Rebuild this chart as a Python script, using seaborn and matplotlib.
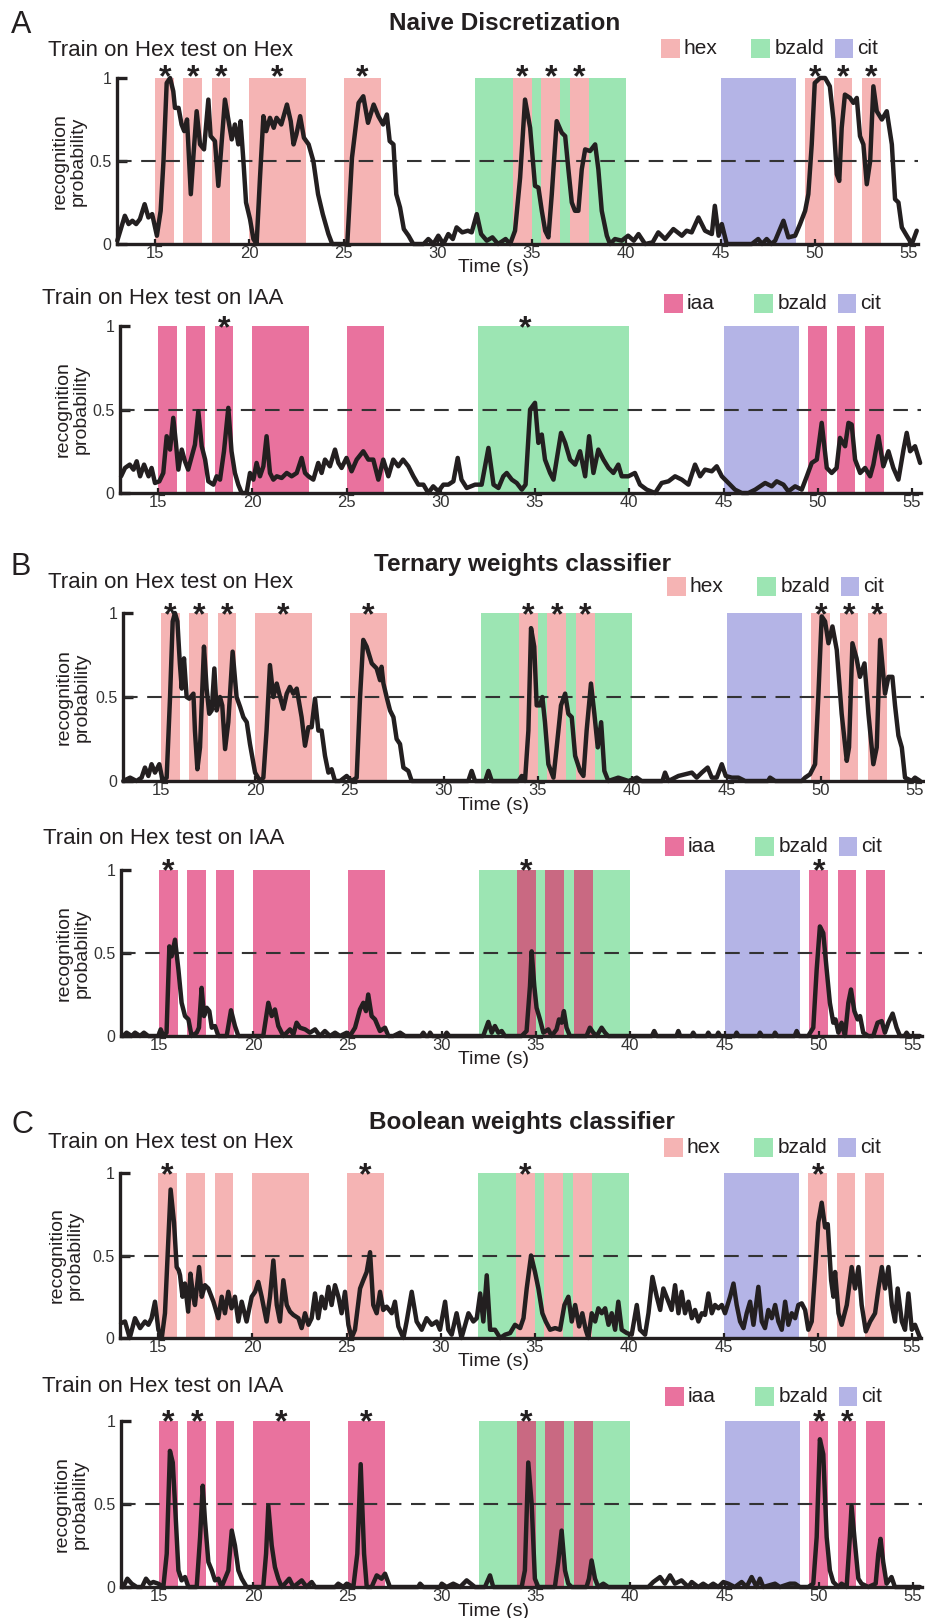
import matplotlib
matplotlib.use("Agg")
import matplotlib.pyplot as plt
import matplotlib.transforms as mtrans
from matplotlib.patches import Rectangle
import numpy as np
import pandas as pd
import seaborn as sns

# ---------------- data ----------------
PULSE_ON = [15, 16.5, 18, 20, 25, 49.5, 51, 52.5]
PULSE_OFF = [16, 17.5, 19, 23, 27, 50.5, 52, 53.5]
MIX_ON = [34, 35.5, 37]
MIX_OFF = [35, 36.5, 38]
BZALD_WIN = (32, 40)
CIT_WIN = (45, 49)
XTICKS = [15, 20, 25, 30, 35, 40, 45, 50, 55]
YTICKS = [0, 0.5, 1]
YTICKLABELS = ["0", "0.5", "1"]

A_TOP = [(13.0,0.02),(13.4,0.17),(13.6,0.12),(13.8,0.14),(14.0,0.12),(14.2,0.15),(14.45,0.24),(14.65,0.16),(14.85,0.18),(15.1,0.05),(15.3,0.2),(15.45,0.5),(15.62,0.97),(15.8,1.0),(15.97,0.92),(16.06,0.82),(16.25,0.82),(16.41,0.72),(16.55,0.68),(16.7,0.75),(16.9,0.3),(17.05,0.55),(17.21,0.8),(17.39,0.6),(17.6,0.57),(17.83,0.87),(17.95,0.65),(18.18,0.62),(18.36,0.35),(18.54,0.62),(18.71,0.87),(18.89,0.75),(19.07,0.63),(19.24,0.72),(19.42,0.6),(19.54,0.74),(19.69,0.5),(19.83,0.25),(20.04,0.15),(20.22,0.03),(20.39,0.0),(20.57,0.4),(20.75,0.77),(20.9,0.68),(21.1,0.76),(21.3,0.7),(21.45,0.76),(21.7,0.72),(22.0,0.84),(22.2,0.74),(22.35,0.6),(22.5,0.66),(22.7,0.77),(22.9,0.64),(23.15,0.6),(23.4,0.5),(23.65,0.3),(23.9,0.18),(24.2,0.06),(24.4,0.0),(25.2,0.0),(25.45,0.52),(25.8,0.85),(26.05,0.89),(26.3,0.73),(26.6,0.84),(26.85,0.77),(27.1,0.72),(27.3,0.78),(27.45,0.62),(27.65,0.6),(27.8,0.3),(28.0,0.22),(28.2,0.09),(28.45,0.05),(28.7,0.0),(29.25,0.0),(29.5,0.03),(29.77,0.0),(30.03,0.05),(30.3,0.0),(30.56,0.06),(30.8,0.03),(31.0,0.1),(31.3,0.07),(31.6,0.08),(31.8,0.07),(32.07,0.18),(32.3,0.06),(32.6,0.02),(32.9,0.04),(33.2,0.0),(33.6,0.03),(33.84,0.0),(34.1,0.08),(34.37,0.4),(34.63,0.87),(34.9,0.7),(35.16,0.35),(35.34,0.34),(35.52,0.2),(35.7,0.08),(35.87,0.04),(36.05,0.3),(36.31,0.74),(36.58,0.67),(36.76,0.65),(36.93,0.45),(37.11,0.25),(37.28,0.2),(37.46,0.2),(37.64,0.45),(37.82,0.57),(38.08,0.56),(38.35,0.6),(38.52,0.45),(38.7,0.2),(38.97,0.05),(39.14,0.0),(39.4,0.03),(39.76,0.02),(40.1,0.05),(40.4,0.02),(40.65,0.06),(41.0,0.0),(41.4,0.01),(41.7,0.07),(42.06,0.03),(42.5,0.09),(42.95,0.05),(43.2,0.08),(43.47,0.07),(43.83,0.16),(44.18,0.08),(44.54,0.06),(44.7,0.23),(44.9,0.05),(45.07,0.12),(45.33,0.0),(46.66,0.0),(47.0,0.03),(47.2,0.0),(47.45,0.03),(47.7,0.0),(47.9,0.02),(48.34,0.14),(48.6,0.04),(48.96,0.05),(49.22,0.12),(49.49,0.2),(49.66,0.3),(49.84,0.6),(50.0,0.97),(50.28,1.0),(50.55,1.0),(50.8,0.95),(50.99,0.75),(51.17,0.42),(51.3,0.38),(51.43,0.7),(51.6,0.9),(51.87,0.88),(52.05,0.85),(52.23,0.88),(52.4,0.65),(52.58,0.6),(52.76,0.36),(52.94,0.5),(53.11,0.95),(53.29,0.8),(53.56,0.75),(53.82,0.8),(54.09,0.6),(54.26,0.27),(54.44,0.25),(54.62,0.1),(54.88,0.05),(55.15,0.0),(55.41,0.08)]

A_BOT = [(13.04,0.10),(13.25,0.15),(13.5,0.17),(13.7,0.14),(13.87,0.19),(14.05,0.10),(14.26,0.17),(14.5,0.10),(14.66,0.15),(14.84,0.06),(15.07,0.07),(15.28,0.12),(15.46,0.34),(15.64,0.26),(15.81,0.45),(15.95,0.30),(16.08,0.14),(16.26,0.26),(16.43,0.19),(16.6,0.14),(16.79,0.22),(16.96,0.29),(17.14,0.49),(17.32,0.28),(17.5,0.20),(17.67,0.07),(17.94,0.05),(18.11,0.10),(18.29,0.08),(18.5,0.25),(18.73,0.51),(18.9,0.25),(19.08,0.12),(19.26,0.05),(19.44,0.0),(19.7,0.0),(19.88,0.12),(20.06,0.08),(20.23,0.18),(20.41,0.10),(20.59,0.16),(20.76,0.34),(20.94,0.12),(21.12,0.08),(21.3,0.10),(21.56,0.09),(21.83,0.12),(22.09,0.10),(22.36,0.12),(22.62,0.21),(22.8,0.12),(22.98,0.10),(23.24,0.08),(23.5,0.18),(23.68,0.12),(23.86,0.20),(24.12,0.16),(24.39,0.26),(24.57,0.18),(24.74,0.15),(25.0,0.21),(25.27,0.13),(25.54,0.20),(25.89,0.25),(26.16,0.20),(26.42,0.20),(26.69,0.08),(26.95,0.20),(27.22,0.10),(27.48,0.20),(27.75,0.16),(28.0,0.20),(28.28,0.16),(28.55,0.10),(28.81,0.05),(29.08,0.05),(29.34,0.0),(29.6,0.04),(29.87,0.01),(30.14,0.05),(30.4,0.05),(30.67,0.07),(30.9,0.21),(31.1,0.08),(31.38,0.03),(31.82,0.05),(32.17,0.05),(32.53,0.27),(32.8,0.05),(33.06,0.03),(33.32,0.10),(33.5,0.12),(33.77,0.08),(34.03,0.06),(34.3,0.02),(34.5,0.05),(34.74,0.50),(35.0,0.54),(35.18,0.30),(35.36,0.35),(35.53,0.20),(35.8,0.12),(35.98,0.08),(36.15,0.20),(36.38,0.36),(36.6,0.30),(36.86,0.20),(37.13,0.17),(37.39,0.25),(37.66,0.10),(37.87,0.34),(38.1,0.12),(38.36,0.26),(38.63,0.20),(38.9,0.15),(39.16,0.12),(39.42,0.17),(39.6,0.10),(39.95,0.10),(40.3,0.12),(40.57,0.05),(40.93,0.02),(41.37,0.0),(41.72,0.06),(42.08,0.07),(42.43,0.10),(42.79,0.08),(43.14,0.05),(43.49,0.17),(43.76,0.10),(44.02,0.14),(44.38,0.13),(44.64,0.16),(44.91,0.10),(45.26,0.06),(45.61,0.02),(45.97,0.0),(46.32,0.0),(46.68,0.02),(47.21,0.06),(47.56,0.04),(47.82,0.07),(48.18,0.05),(48.44,0.01),(48.8,0.04),(49.15,0.02),(49.42,0.10),(49.68,0.18),(49.95,0.20),(50.21,0.42),(50.48,0.15),(50.74,0.12),(51.0,0.15),(51.18,0.33),(51.45,0.28),(51.63,0.42),(51.8,0.41),(51.98,0.20),(52.25,0.12),(52.51,0.15),(52.78,0.10),(52.95,0.17),(53.22,0.34),(53.48,0.16),(53.75,0.25),(54.01,0.15),(54.28,0.08),(54.55,0.26),(54.72,0.36),(54.9,0.25),(55.16,0.28),(55.43,0.18)]

B_TOP = [(13.0,0.0),(13.36,0.02),(13.7,0.0),(13.97,0.02),(14.15,0.08),(14.33,0.03),(14.5,0.10),(14.68,0.05),(14.91,0.10),(15.09,0.0),(15.3,0.02),(15.48,0.50),(15.62,0.95),(15.74,1.0),(15.87,0.95),(16.0,0.70),(16.1,0.55),(16.22,0.73),(16.36,0.50),(16.5,0.49),(16.72,0.52),(16.8,0.30),(16.93,0.07),(17.07,0.20),(17.28,0.80),(17.42,0.55),(17.56,0.40),(17.69,0.42),(17.83,0.67),(17.95,0.42),(18.13,0.50),(18.25,0.45),(18.4,0.19),(18.57,0.35),(18.8,0.77),(19.01,0.50),(19.2,0.44),(19.37,0.38),(19.55,0.35),(19.72,0.22),(19.99,0.05),(20.25,0.0),(20.43,0.02),(20.6,0.30),(20.78,0.69),(20.96,0.50),(21.14,0.58),(21.32,0.50),(21.49,0.43),(21.67,0.52),(21.84,0.56),(22.02,0.52),(22.2,0.55),(22.46,0.38),(22.64,0.21),(22.82,0.32),(22.99,0.32),(23.17,0.49),(23.35,0.30),(23.52,0.30),(23.7,0.15),(23.88,0.05),(24.05,0.07),(24.23,0.0),(24.5,0.0),(24.85,0.03),(25.11,0.0),(25.38,0.02),(25.56,0.50),(25.73,0.84),(25.91,0.80),(26.18,0.70),(26.44,0.67),(26.62,0.60),(26.7,0.68),(26.8,0.58),(26.97,0.50),(27.15,0.42),(27.33,0.38),(27.5,0.25),(27.68,0.22),(27.86,0.08),(28.12,0.06),(28.3,0.0),(31.3,0.0),(31.48,0.06),(31.66,0.0),(32.2,0.0),(32.37,0.06),(32.55,0.0),(33.96,0.0),(34.14,0.03),(34.31,0.0),(34.49,0.30),(34.63,0.91),(34.8,0.80),(34.93,0.45),(35.11,0.45),(35.23,0.50),(35.37,0.35),(35.55,0.10),(35.82,0.02),(35.99,0.20),(36.22,0.45),(36.44,0.52),(36.61,0.40),(36.79,0.38),(36.97,0.15),(37.23,0.06),(37.41,0.03),(37.58,0.30),(37.81,0.58),(37.99,0.40),(38.17,0.20),(38.35,0.35),(38.52,0.06),(38.73,0.0),(39.0,0.01),(39.26,0.02),(39.8,0.0),(40.24,0.02),(40.5,0.0),(41.6,0.0),(41.74,0.05),(41.92,0.0),(42.45,0.03),(42.8,0.04),(43.16,0.05),(43.42,0.02),(43.69,0.05),(44.0,0.08),(44.22,0.02),(44.48,0.02),(44.75,0.10),(44.96,0.03),(45.28,0.02),(45.63,0.02),(45.99,0.0),(47.2,0.0),(47.31,0.02),(47.58,0.0),(48.99,0.0),(49.17,0.02),(49.43,0.04),(49.7,0.10),(49.87,0.50),(50.05,0.98),(50.23,0.95),(50.41,0.82),(50.62,0.92),(50.85,0.78),(51.11,0.40),(51.38,0.12),(51.5,0.20),(51.68,0.82),(51.9,0.73),(52.08,0.62),(52.32,0.70),(52.53,0.40),(52.79,0.10),(52.97,0.20),(53.15,0.84),(53.41,0.52),(53.59,0.62),(53.8,0.62),(53.94,0.45),(54.12,0.27),(54.3,0.20),(54.47,0.02),(54.83,0.0),(55.0,0.02),(55.27,0.0)]

B_BOT = [(13.1,0.0),(13.28,0.02),(13.55,0.0),(13.73,0.02),(13.99,0.0),(14.2,0.02),(14.43,0.0),(14.96,0.0),(15.09,0.04),(15.23,0.0),(15.4,0.02),(15.55,0.54),(15.67,0.48),(15.85,0.58),(16.03,0.40),(16.2,0.20),(16.38,0.12),(16.56,0.10),(16.73,0.0),(17.0,0.02),(17.12,0.05),(17.26,0.29),(17.39,0.12),(17.53,0.17),(17.67,0.15),(17.8,0.05),(17.97,0.06),(18.15,0.0),(18.59,0.0),(18.82,0.155),(19.03,0.06),(19.21,0.0),(20.53,0.0),(20.8,0.20),(20.98,0.12),(21.15,0.16),(21.33,0.06),(21.6,0.0),(21.95,0.04),(22.13,0.01),(22.3,0.08),(22.48,0.05),(22.75,0.04),(23.01,0.02),(23.28,0.04),(23.54,0.0),(23.8,0.03),(24.07,0.0),(24.34,0.02),(24.6,0.0),(24.96,0.02),(25.13,0.0),(25.4,0.05),(25.66,0.16),(25.84,0.20),(25.98,0.15),(26.1,0.25),(26.28,0.12),(26.46,0.10),(26.72,0.03),(26.99,0.05),(27.17,0.0),(27.43,0.0),(27.79,0.02),(28.05,0.0),(28.9,0.0),(29.02,0.02),(29.15,0.0),(29.3,0.0),(29.38,0.02),(29.5,0.0),(30.15,0.0),(30.26,0.02),(30.4,0.0),(32.2,0.0),(32.47,0.085),(32.65,0.02),(32.82,0.06),(33.0,0.02),(33.18,0.03),(33.35,0.0),(34.24,0.0),(34.5,0.03),(34.68,0.30),(34.77,0.51),(34.91,0.30),(35.03,0.17),(35.21,0.10),(35.39,0.02),(35.65,0.04),(35.83,0.0),(36.09,0.04),(36.22,0.10),(36.36,0.08),(36.48,0.15),(36.62,0.05),(36.8,0.0),(37.68,0.0),(37.86,0.05),(38.04,0.02),(38.22,0.0),(38.48,0.05),(38.66,0.02),(38.83,0.0),(41.15,0.0),(41.27,0.03),(41.4,0.0),(42.45,0.0),(42.55,0.03),(42.65,0.0),(43.25,0.0),(43.34,0.02),(43.45,0.0),(44.05,0.0),(44.14,0.02),(44.25,0.0),(44.58,0.0),(44.67,0.02),(44.78,0.0),(45.55,0.0),(45.64,0.02),(45.75,0.0),(46.8,0.0),(46.88,0.02),(47.0,0.0),(47.6,0.0),(47.68,0.02),(47.8,0.0),(48.72,0.0),(48.83,0.03),(48.95,0.0),(49.44,0.0),(49.71,0.05),(49.89,0.40),(50.06,0.66),(50.24,0.62),(50.42,0.40),(50.59,0.20),(50.77,0.08),(50.89,0.10),(51.04,0.02),(51.21,0.08),(51.39,0.0),(51.57,0.20),(51.71,0.28),(51.89,0.15),(52.06,0.10),(52.19,0.12),(52.36,0.02),(52.63,0.0),(52.89,0.0),(53.12,0.08),(53.34,0.09),(53.51,0.02),(53.69,0.08),(53.92,0.135),(54.13,0.05),(54.31,0.0),(54.55,0.0),(54.66,0.02),(54.78,0.0),(55.37,0.0)]

C_TOP = [(13.04,0.09),(13.25,0.10),(13.5,0.0),(13.78,0.12),(14.05,0.06),(14.31,0.10),(14.49,0.08),(14.66,0.12),(14.84,0.22),(15.02,0.05),(15.2,0.0),(15.37,0.15),(15.55,0.60),(15.67,0.90),(15.85,0.70),(15.99,0.43),(16.1,0.41),(16.17,0.38),(16.3,0.25),(16.43,0.33),(16.6,0.16),(16.72,0.39),(16.87,0.25),(16.96,0.20),(17.18,0.43),(17.32,0.25),(17.49,0.32),(17.67,0.30),(17.94,0.22),(18.2,0.12),(18.38,0.25),(18.55,0.15),(18.73,0.28),(18.9,0.18),(19.08,0.25),(19.26,0.10),(19.44,0.22),(19.7,0.10),(19.97,0.25),(20.15,0.28),(20.32,0.34),(20.5,0.25),(20.76,0.10),(20.94,0.25),(21.12,0.47),(21.3,0.20),(21.47,0.10),(21.65,0.35),(21.83,0.20),(22.0,0.16),(22.18,0.14),(22.45,0.12),(22.62,0.06),(22.8,0.15),(22.98,0.08),(23.15,0.12),(23.33,0.27),(23.5,0.12),(23.68,0.25),(23.86,0.18),(24.04,0.31),(24.21,0.20),(24.39,0.32),(24.57,0.25),(24.74,0.15),(24.92,0.28),(25.1,0.08),(25.27,0.0),(25.45,0.05),(25.72,0.30),(25.89,0.35),(26.07,0.40),(26.25,0.52),(26.42,0.20),(26.6,0.15),(26.78,0.28),(26.95,0.17),(27.13,0.19),(27.4,0.15),(27.57,0.22),(27.75,0.07),(28.02,0.0),(28.19,0.10),(28.46,0.28),(28.72,0.10),(28.99,0.05),(29.25,0.12),(29.52,0.08),(29.78,0.10),(29.96,0.05),(30.23,0.22),(30.4,0.05),(30.58,0.02),(30.84,0.15),(31.1,0.0),(31.47,0.15),(31.73,0.10),(31.91,0.12),(32.09,0.27),(32.26,0.10),(32.44,0.38),(32.62,0.05),(32.88,0.05),(33.15,0.0),(33.41,0.02),(33.68,0.03),(33.94,0.08),(34.21,0.06),(34.39,0.12),(34.56,0.30),(34.79,0.50),(35.0,0.40),(35.18,0.30),(35.39,0.15),(35.57,0.10),(35.8,0.05),(36.07,0.06),(36.33,0.05),(36.56,0.20),(36.77,0.25),(36.95,0.10),(37.13,0.20),(37.34,0.07),(37.51,0.15),(37.69,0.05),(37.83,0.0),(38.01,0.15),(38.19,0.10),(38.36,0.18),(38.54,0.15),(38.72,0.18),(38.9,0.08),(39.07,0.15),(39.25,0.05),(39.42,0.22),(39.6,0.05),(39.87,0.03),(40.13,0.02),(40.4,0.20),(40.57,0.05),(40.84,0.02),(41.02,0.15),(41.23,0.37),(41.46,0.25),(41.64,0.17),(41.81,0.30),(42.08,0.22),(42.25,0.17),(42.43,0.32),(42.61,0.15),(42.78,0.28),(42.96,0.15),(43.14,0.22),(43.32,0.12),(43.49,0.17),(43.67,0.10),(43.85,0.15),(44.02,0.14),(44.2,0.27),(44.38,0.15),(44.55,0.20),(44.73,0.18),(44.91,0.20),(45.08,0.15),(45.35,0.25),(45.53,0.33),(45.7,0.20),(45.88,0.10),(46.06,0.06),(46.23,0.15),(46.41,0.22),(46.59,0.08),(46.85,0.31),(47.03,0.10),(47.2,0.06),(47.38,0.17),(47.56,0.12),(47.74,0.20),(47.91,0.10),(48.09,0.05),(48.27,0.22),(48.44,0.08),(48.62,0.15),(48.8,0.12),(48.97,0.20),(49.15,0.21),(49.33,0.17),(49.5,0.05),(49.68,0.10),(49.86,0.40),(50.03,0.70),(50.21,0.82),(50.39,0.67),(50.53,0.69),(50.71,0.35),(50.83,0.25),(50.92,0.40),(51.1,0.15),(51.27,0.08),(51.54,0.20),(51.8,0.43),(51.98,0.30),(52.16,0.43),(52.33,0.20),(52.55,0.04),(52.78,0.10),(53.04,0.15),(53.22,0.30),(53.4,0.43),(53.57,0.30),(53.75,0.43),(53.93,0.20),(54.1,0.10),(54.24,0.30),(54.46,0.10),(54.63,0.05),(54.81,0.27),(54.99,0.05),(55.16,0.08),(55.43,0.0)]

C_BOT = [(13.1,0.0),(13.32,0.05),(13.55,0.02),(13.82,0.0),(14.1,0.0),(14.31,0.05),(14.52,0.02),(14.7,0.03),(14.96,0.02),(15.23,0.0),(15.41,0.20),(15.58,0.82),(15.73,0.75),(15.85,0.50),(16.03,0.10),(16.2,0.04),(16.38,0.06),(16.56,0.0),(17.0,0.0),(17.18,0.30),(17.32,0.61),(17.44,0.40),(17.62,0.15),(17.8,0.10),(17.97,0.04),(18.15,0.05),(18.32,0.0),(18.68,0.10),(18.86,0.34),(19.03,0.25),(19.21,0.10),(19.39,0.05),(19.65,0.0),(20.53,0.0),(20.68,0.20),(20.8,0.49),(20.98,0.25),(21.15,0.12),(21.33,0.05),(21.51,0.0),(21.68,0.02),(21.91,0.05),(22.13,0.0),(22.57,0.04),(22.83,0.0),(23.1,0.03),(23.28,0.0),(24.34,0.0),(24.51,0.02),(24.78,0.0),(24.96,0.02),(25.31,0.0),(25.52,0.20),(25.7,0.74),(25.88,0.20),(26.02,0.0),(26.28,0.0),(26.55,0.07),(26.81,0.05),(26.99,0.08),(27.25,0.0),(28.75,0.0),(28.85,0.02),(29.02,0.0),(29.9,0.0),(30.0,0.02),(30.26,0.0),(30.61,0.02),(30.97,0.0),(31.32,0.04),(31.76,0.0),(32.29,0.0),(32.56,0.07),(32.73,0.0),(34.24,0.0),(34.41,0.10),(34.59,0.75),(34.77,0.50),(34.94,0.05),(35.12,0.0),(36.0,0.0),(36.18,0.15),(36.36,0.34),(36.54,0.10),(36.71,0.02),(36.89,0.0),(37.68,0.0),(37.81,0.05),(37.95,0.16),(38.13,0.05),(38.3,0.0),(38.57,0.02),(38.83,0.0),(40.96,0.0),(41.22,0.03),(41.58,0.06),(41.84,0.02),(42.11,0.07),(42.37,0.02),(42.72,0.04),(43.08,0.0),(43.26,0.03),(43.61,0.0),(43.87,0.02),(44.14,0.0),(44.4,0.02),(44.67,0.0),(44.94,0.03),(45.2,0.02),(45.55,0.0),(45.91,0.03),(46.17,0.0),(46.44,0.06),(46.7,0.0),(46.88,0.05),(47.06,0.0),(47.68,0.02),(47.94,0.0),(48.47,0.02),(48.74,0.02),(49.0,0.0),(49.44,0.0),(49.71,0.02),(49.89,0.30),(50.06,0.89),(50.24,0.80),(50.42,0.30),(50.59,0.10),(50.77,0.03),(51.04,0.0),(51.21,0.02),(51.48,0.0),(51.65,0.30),(51.74,0.49),(51.89,0.30),(52.1,0.05),(52.27,0.02),(52.63,0.0),(53.02,0.02),(53.16,0.20),(53.28,0.29),(53.42,0.15),(53.6,0.02),(53.86,0.06),(54.04,0.0),(55.37,0.0)]

STARS_A_TOP = [15.55, 17.0, 18.5, 21.5, 26.0, 34.5, 36.0, 37.5, 50.0, 51.5, 53.0]
STARS_A_BOT = [18.5, 34.5]
STARS_B_TOP = [15.5, 17.0, 18.5, 21.5, 26.0, 34.5, 36.0, 37.5, 50.0, 51.5, 53.0]
STARS_B_BOT = [15.5, 34.5, 50.0]
STARS_C_TOP = [15.5, 26.0, 34.5, 50.0]
STARS_C_BOT = [15.5, 17.0, 21.5, 26.0, 34.5, 50.0, 51.5]

SECTION_TITLES = ["Naive Discretization", "Ternary weights classifier", "Boolean weights classifier"]
SECTION_LETTERS = ["A", "B", "C"]
SUBTITLES = ["Train on Hex test on Hex", "Train on Hex test on IAA"]
TEST_ODORS = ["hex", "iaa"]

# ---------------- style ----------------
sns.set_style("ticks")
plt.rcParams["font.family"] = ["Liberation Sans", "DejaVu Sans"]
INK = "#231f20"
COLORS = {"hex": "#f5b4b4", "iaa": "#e9729e", "bzald": "#9ce5b3",
          "cit": "#b4b4e6", "iaa_mix": "#c96982"}

W, H = 925, 1618
XMIN, XMAX = 13.0, 55.5
PXS = 18.85  # pixels per second

fig = plt.figure(figsize=(W / 100, H / 100), dpi=100)

def fx(px):
    return px / W

def fy(py):
    return 1 - py / H

PANELS = [
    (A_TOP, STARS_A_TOP, "hex", "hex", 155, 78, 244, (48, 50), 69, 1.175, 1.06, True),
    (A_BOT, STARS_A_BOT, "iaa", None, 158, 326, 493, (42, 298), 72, 1.135, 1.04, False),
    (B_TOP, STARS_B_TOP, "hex", "hex", 161, 613, 781, (48, 583), 73, 1.155, 1.04, True),
    (B_BOT, STARS_B_BOT, "iaa", "iaa_mix", 159, 870, 1036, (43, 838), 73, 1.14, 1.05, True),
    (C_TOP, STARS_C_TOP, "hex", "hex", 158, 1173, 1338, (48, 1143), 66, 1.157, 1.04, True),
    (C_BOT, STARS_C_BOT, "iaa", "iaa_mix", 159, 1421, 1587, (42, 1387), 71, 1.145, 1.05, True),
]

for i, (series, stars, odor, mix, x15, top, bot, sub_xy, ylab_x, leg_y, star_y, has_xl) in enumerate(PANELS):
    L = x15 - (15 - XMIN) * PXS
    R = x15 + (XMAX - 15) * PXS
    ax = fig.add_axes([fx(L), fy(bot), (R - L) / W, (bot - top) / H])
    ax.set_facecolor("none")

    ax.axvspan(*BZALD_WIN, color=COLORS["bzald"], lw=0, zorder=0)
    ax.axvspan(*CIT_WIN, color=COLORS["cit"], lw=0, zorder=0)
    for a, b in zip(PULSE_ON, PULSE_OFF):
        ax.axvspan(a, b, color=COLORS[odor], lw=0, zorder=0)
    if mix is not None:
        for a, b in zip(MIX_ON, MIX_OFF):
            ax.axvspan(a, b, color=COLORS[mix], lw=0, zorder=0.5)

    ax.axhline(0.5, color="#333333", lw=1.5, dashes=(7.0, 4.6), zorder=1)

    df = pd.DataFrame(series, columns=["t", "p"])
    sns.lineplot(data=df, x="t", y="p", ax=ax, color=INK, lw=3.2,
                 estimator=None, sort=False, clip_on=False, zorder=3)

    ax.set_xlim(XMIN, XMAX)
    ax.set_ylim(0, 1)
    ax.set_xlabel("")
    ax.set_ylabel("")
    for s in ["top", "right"]:
        ax.spines[s].set_visible(False)
    for s in ["left", "bottom"]:
        ax.spines[s].set_linewidth(2.4)
        ax.spines[s].set_color(INK)
        ax.spines[s].set_zorder(4)
    ax.set_xticks(XTICKS)
    ax.set_xticklabels([str(v) for v in XTICKS])
    ax.set_yticks(YTICKS)
    ax.set_yticklabels(YTICKLABELS)
    ax.tick_params(axis="x", direction="in", length=3.5, width=1.6, color=INK,
                   labelsize=12, pad=1.5, labelcolor="#333333")
    ax.tick_params(axis="y", direction="in", length=7.5, width=2.4, color=INK,
                   labelsize=11.5, pad=4, labelcolor="#333333")

    fs_star = 23
    tr = mtrans.offset_copy(ax.transData, fig=fig, x=0, y=-0.57 * fs_star, units="points")
    for sx in stars:
        ax.text(sx, star_y, "*", transform=tr, ha="center", va="baseline",
                fontsize=fs_star, fontweight="bold", color=INK, clip_on=False)

    h = 19 / (bot - top)
    labels = [odor, "bzald", "cit"]
    for px0, tx0, lab in zip([41.85, 46.6, 51.05], [43.05, 47.85, 52.25], labels):
        ax.add_patch(Rectangle((px0, leg_y - h / 2), 1.0, h, facecolor=COLORS[lab],
                               edgecolor="none", clip_on=False, zorder=2))
        ax.text(tx0, leg_y, lab, ha="left", va="center", fontsize=15, color=INK)

    fig.text(fx(sub_xy[0]), fy(sub_xy[1]), SUBTITLES[i % 2], ha="left", va="center",
             fontsize=16, color=INK)
    fig.text(fx(ylab_x), fy((top + bot) / 2), "recognition\nprobability", rotation=90,
             ha="center", va="center", fontsize=14, color=INK, linespacing=1.1)
    if has_xl:
        fig.text(fx(494), fy(bot + 24), "Time (s)", ha="center", va="center",
                 fontsize=14, color=INK)

for letter, title, (lx, ly), (tx, ty) in zip(
        SECTION_LETTERS, SECTION_TITLES,
        [(21, 25), (21, 567), (22, 1125)],
        [(505, 23), (523, 565), (522, 1123)]):
    fig.text(fx(lx), fy(ly), letter, ha="center", va="center", fontsize=22, color=INK)
    fig.text(fx(tx), fy(ty), title, ha="center", va="center", fontsize=17.5,
             fontweight="bold", color=INK)

fig.savefig("out.png", dpi=100)
